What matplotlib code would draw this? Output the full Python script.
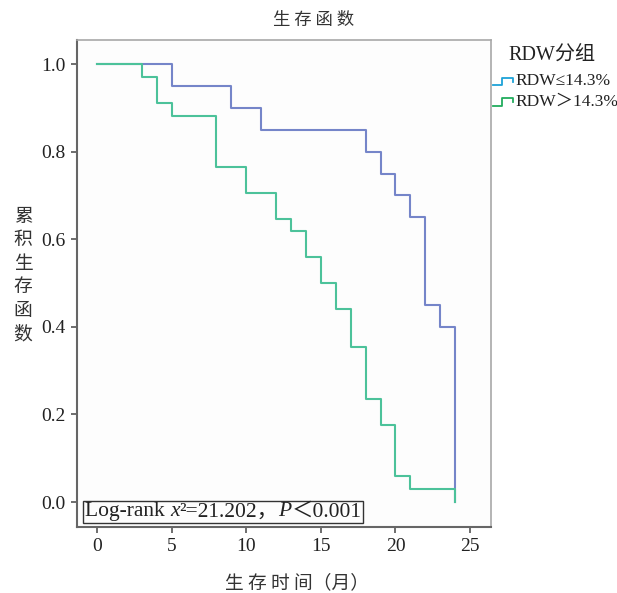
import matplotlib
matplotlib.use("Agg")
import matplotlib.pyplot as plt
from matplotlib.lines import Line2D
from matplotlib.offsetbox import TextArea, HPacker, AnchoredOffsetbox

# ---- data ----
blue_times = [0, 5, 9, 11, 18, 19, 20, 21, 22, 23, 24]
blue_surv = [1.0, 0.95, 0.90, 0.85, 0.80, 0.75, 0.70, 0.65, 0.45, 0.40, 0.0]
green_times = [0, 3, 4, 5, 8, 10, 12, 13, 14, 15, 16, 17, 18, 19, 20, 21, 24]
green_surv = [1.0, 0.971, 0.912, 0.882, 0.765, 0.706, 0.647, 0.618, 0.559,
              0.500, 0.441, 0.353, 0.235, 0.176, 0.059, 0.029, 0.0]
x_ticks = [0, 5, 10, 15, 20, 25]
y_ticks = [0.0, 0.2, 0.4, 0.6, 0.8, 1.0]
group_labels = ["RDW≤14.3%", "RDW＞14.3%"]

SERIF = ['Liberation Serif', 'Noto Sans CJK SC']
CJK = ['Noto Sans CJK SC', 'DejaVu Sans']

W, H = 617, 593
fig = plt.figure(figsize=(W / 100, H / 100), dpi=100)
fig.patch.set_facecolor('white')
ax = fig.add_axes([77 / W, 1 - 527 / H, (491 - 77) / W, (527 - 40) / H])
ax.set_facecolor('#fdfdfd')

blue_c = '#7585c9'
green_c = '#4cc29a'
ax.step(blue_times, blue_surv, where='post', color=blue_c, lw=1.5)
ax.step(green_times, green_surv, where='post', color=green_c, lw=1.5)

ax.set_xlim(-1.34, 26.4)
ax.set_ylim(-0.057, 1.055)
ax.set_xticks(x_ticks)
ax.set_yticks(y_ticks)
ax.set_xticklabels([str(v) for v in x_ticks], family=SERIF, fontsize=14, color='#222')
ax.set_yticklabels([f"{v:.1f}" for v in y_ticks], family=SERIF, fontsize=14, color='#222')
ax.tick_params(axis='both', direction='out', length=4, width=1.2, color='#555', pad=4)

for s in ['left', 'bottom']:
    ax.spines[s].set_color('#666')
    ax.spines[s].set_linewidth(1.5)
for s in ['top', 'right']:
    ax.spines[s].set_color('#a8a8a8')
    ax.spines[s].set_linewidth(1.2)

# titles and labels
fig.text(314 / W, 1 - 20 / H, "生 存 函 数", family=CJK, fontsize=12.5,
         ha='center', va='center', color='#333')
fig.text(297 / W, 1 - 583 / H, "生 存 时 间（月）", family=CJK, fontsize=13.5,
         ha='center', va='center', color='#333')
fig.text(23 / W, 1 - 275 / H, "\n".join("累积生存函数"), family=CJK, fontsize=13.5,
         ha='center', va='center', color='#333', linespacing=1.15)

# annotation box
parts = [("Log-rank ", 'normal'), ("x", 'italic'), ("²=21.202，", 'normal'),
         ("P", 'italic'), ("＜0.001", 'normal')]
areas = [TextArea(t, textprops=dict(family=SERIF, fontsize=15.5, style=st, color='#222'))
         for t, st in parts]
hp = HPacker(children=areas, align='baseline', pad=0, sep=0)
ab = AnchoredOffsetbox(loc='lower left', child=hp, pad=0.12, borderpad=0, frameon=True,
                       bbox_to_anchor=(6 / 414, 4 / 487), bbox_transform=ax.transAxes)
ab.patch.set_edgecolor('#333')
ab.patch.set_linewidth(1.0)
ab.patch.set_facecolor('#fdfdfd')
ax.add_artist(ab)

# legend (drawn manually)
fig.text(552 / W, 1 - 55 / H, "RDW分组", family=SERIF, fontsize=14.5,
         ha='center', va='center', color='#222')
leg_colors = ['#1ea3d8', '#22ad5e']
for i, (lab, c) in enumerate(zip(group_labels, leg_colors)):
    yc = 80 + i * 20.5
    xs = [493, 501.5, 501.5, 513, 513]
    ys = [yc + 5, yc + 5, yc - 2.5, yc - 2.5, yc + 1.5]
    fig.add_artist(Line2D([x / W for x in xs], [1 - y / H for y in ys],
                          color=c, lw=1.3, transform=fig.transFigure))
    fig.text(515 / W, 1 - (yc + 1) / H, lab, family=SERIF, fontsize=12.5,
             ha='left', va='center', color='#222')

fig.savefig("out.png", dpi=100)
